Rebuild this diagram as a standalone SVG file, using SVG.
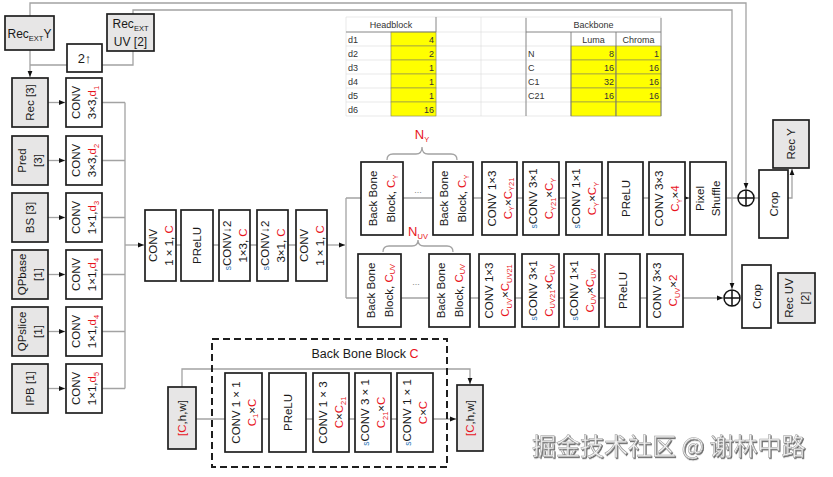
<svg xmlns="http://www.w3.org/2000/svg" width="833" height="477" viewBox="0 0 833 477">
<style>
.b{fill:#fff;stroke:#1f1f1f;stroke-width:1.7}
.g{fill:#e7e6e6;stroke:#1f1f1f;stroke-width:1.7}
.c{fill:none;stroke:#a3a3a3;stroke-width:1.3}
.t{font-family:"Liberation Sans",Arial,sans-serif;font-size:11.5px;fill:#1a1a1a;text-anchor:middle}
.r{fill:#e8141c}
.sb{font-size:7.5px}
.bl{fill:#2e75b6;font-size:8.5px}
.tb{font-family:"Liberation Sans",Arial,sans-serif;font-size:9px;fill:#333}
.gr{stroke:#dadada;stroke-width:0.6;fill:none}
.dk{stroke:#7a7a7a;stroke-width:0.8;fill:none}
.y{fill:#ffff00;stroke:#8a8a55;stroke-width:0.6}
.ox{fill:#fff;stroke:#111;stroke-width:1.5}
</style>
<defs>
<marker id="a" viewBox="0 0 10 10" refX="10" refY="5" markerWidth="6" markerHeight="6" markerUnits="userSpaceOnUse" orient="auto"><path d="M0,1 L10,5 L0,9z" fill="#111"/></marker>
<filter id="sh" x="-5%" y="-20%" width="110%" height="140%"><feDropShadow dx="1" dy="1.2" stdDeviation="0.7" flood-color="#444" flood-opacity="0.8"/></filter>
</defs>
<rect width="833" height="477" fill="#fff"/>

<g id="tables">
<g class="gr">
<path d="M346,17H661M346,32H661M346,46H661M346,60H661M346,74H661M346,88H661M346,102H661M346,116H661"/>
<path d="M346,17V116M391,32V116M436,17V116M481,17V116M526,17V116M571,32V116M616,32V116M661,17V116"/>
</g>
<rect class="y" x="391" y="32" width="45" height="14"/>
<rect class="y" x="391" y="46" width="45" height="14"/>
<rect class="y" x="391" y="60" width="45" height="14"/>
<rect class="y" x="391" y="74" width="45" height="14"/>
<rect class="y" x="391" y="88" width="45" height="14"/>
<rect class="y" x="391" y="102" width="45" height="14"/>
<path class="dk" d="M346,32H436M436,17V32"/>
<text class="tb" x="391" y="28" text-anchor="middle">Headblock</text>
<text class="tb" x="348" y="42.5">d1</text>
<text class="tb" x="348" y="56.5">d2</text>
<text class="tb" x="348" y="70.5">d3</text>
<text class="tb" x="348" y="84.5">d4</text>
<text class="tb" x="348" y="98.5">d5</text>
<text class="tb" x="348" y="112.5">d6</text>
<g text-anchor="end">
<text class="tb" x="434" y="42.5">4</text>
<text class="tb" x="434" y="56.5">2</text>
<text class="tb" x="434" y="70.5">1</text>
<text class="tb" x="434" y="84.5">1</text>
<text class="tb" x="434" y="98.5">1</text>
<text class="tb" x="434" y="112.5">16</text>
</g>
<rect class="y" x="571" y="46" width="45" height="14"/><rect class="y" x="616" y="46" width="45" height="14"/>
<rect class="y" x="571" y="60" width="45" height="14"/><rect class="y" x="616" y="60" width="45" height="14"/>
<rect class="y" x="571" y="74" width="45" height="14"/><rect class="y" x="616" y="74" width="45" height="14"/>
<rect class="y" x="571" y="88" width="45" height="14"/><rect class="y" x="616" y="88" width="45" height="14"/>
<rect class="y" x="571" y="102" width="45" height="14"/><rect class="y" x="616" y="102" width="45" height="14"/>
<path class="dk" d="M526,18V116M661,18V116M526,32H661M571,32V116M616,32V116"/>
<text class="tb" x="593.5" y="28" text-anchor="middle">Backbone</text>
<text class="tb" x="593.5" y="42.5" text-anchor="middle">Luma</text>
<text class="tb" x="638.5" y="42.5" text-anchor="middle">Chroma</text>
<text class="tb" x="528" y="56.5">N</text>
<text class="tb" x="528" y="70.5">C</text>
<text class="tb" x="528" y="84.5">C1</text>
<text class="tb" x="528" y="98.5">C21</text>
<g text-anchor="end">
<text class="tb" x="614" y="56.5">8</text><text class="tb" x="659" y="56.5">1</text>
<text class="tb" x="614" y="70.5">16</text><text class="tb" x="659" y="70.5">16</text>
<text class="tb" x="614" y="84.5">32</text><text class="tb" x="659" y="84.5">16</text>
<text class="tb" x="614" y="98.5">16</text><text class="tb" x="659" y="98.5">16</text>
</g>
</g>

<g id="connectors">
<path class="c" d="M30,16V3H746V189" marker-end="url(#a)"/>
<path class="c" d="M133,14V10H732V289" marker-end="url(#a)"/>
<path class="c" d="M30,50V77" marker-end="url(#a)"/>
<path class="c" d="M30,65H67M102,65H133V51"/>
<path class="c" d="M48,102.5H65" marker-end="url(#a)"/>
<path class="c" d="M48,160.5H65" marker-end="url(#a)"/>
<path class="c" d="M48,217.5H65" marker-end="url(#a)"/>
<path class="c" d="M48,274.5H65" marker-end="url(#a)"/>
<path class="c" d="M48,331.5H65" marker-end="url(#a)"/>
<path class="c" d="M48,388.5H65" marker-end="url(#a)"/>
<path class="c" d="M102,102.5H125M102,160.5H125M102,217.5H125M102,274.5H125M102,331.5H125M102,388.5H125M125,102.5V388.5"/>
<path class="c" d="M125,245H144" marker-end="url(#a)"/>
<path class="c" d="M176,245H296"/>
<path class="c" d="M327,245H345" marker-end="url(#a)"/>
<path class="c" d="M346,198V298"/>
<path class="c" d="M346,198H738"/>
<path class="c" d="M682,198H689" marker-end="url(#a)"/>
<path class="c" d="M346,298H723" marker-end="url(#a)"/>
<path class="c" d="M754,198H792V169" marker-end="url(#a)"/>
<path class="c" d="M387,160Q387,154 393,154H416Q422,154 422,147Q422,154 428,154H451Q457,154 457,160"/>
<path class="c" d="M383,252Q383,246 389,246H412Q418,246 418,240Q418,246 424,246H447Q453,246 453,252"/>
<path class="c" d="M196,419H456" marker-end="url(#a)"/>
<path class="c" d="M182,387V369H470V384" marker-end="url(#a)"/>
</g>

<g id="recext-y"><rect class="g" x="5" y="16" width="49" height="34"/><text class="t" x="29.5" y="38" style="font-size:12px">Rec<tspan class="sb" dy="2.5">EXT</tspan><tspan dy="-2.5">Y</tspan></text></g>
<g id="recext-uv"><rect class="g" x="107" y="14" width="47" height="37"/><text class="t" style="font-size:12px"><tspan x="130.5" y="28">Rec<tspan class="sb" dy="2.5">EXT</tspan></tspan><tspan x="130.5" y="46">UV [2]</tspan></text></g>
<g id="up2"><rect class="b" x="67" y="44" width="35" height="28"/><text class="t" x="84.5" y="63" style="font-size:13px">2↑</text></g>

<g id="in-rec"><rect class="g" x="12" y="78" width="36" height="49"/><text class="t" transform="translate(30,102.5) rotate(-90)"><tspan x="0" y="4">Rec [3]</tspan></text></g>
<g id="conv-d1"><rect class="b" x="66" y="78" width="36" height="49"/><text class="t" transform="translate(84,102.5) rotate(-90)"><tspan x="0" y="-4">CONV</tspan><tspan x="0" y="12">3×3,<tspan class="r">d<tspan class="sb" dy="2.5">1</tspan></tspan></tspan></text></g>
<g id="in-pred"><rect class="g" x="12" y="136" width="36" height="49"/><text class="t" transform="translate(30,160.5) rotate(-90)"><tspan x="0" y="-4">Pred</tspan><tspan x="0" y="12">[3]</tspan></text></g>
<g id="conv-d2"><rect class="b" x="66" y="136" width="36" height="49"/><text class="t" transform="translate(84,160.5) rotate(-90)"><tspan x="0" y="-4">CONV</tspan><tspan x="0" y="12">3×3,<tspan class="r">d<tspan class="sb" dy="2.5">2</tspan></tspan></tspan></text></g>
<g id="in-bs"><rect class="g" x="12" y="193" width="36" height="49"/><text class="t" transform="translate(30,217.5) rotate(-90)"><tspan x="0" y="4">BS [3]</tspan></text></g>
<g id="conv-d3"><rect class="b" x="66" y="193" width="36" height="49"/><text class="t" transform="translate(84,217.5) rotate(-90)"><tspan x="0" y="-4">CONV</tspan><tspan x="0" y="12">1×1,<tspan class="r">d<tspan class="sb" dy="2.5">3</tspan></tspan></tspan></text></g>
<g id="in-qpbase"><rect class="g" x="12" y="250" width="36" height="49"/><text class="t" transform="translate(30,274.5) rotate(-90)"><tspan x="0" y="-4">QPbase</tspan><tspan x="0" y="12">[1]</tspan></text></g>
<g id="conv-d4a"><rect class="b" x="66" y="250" width="36" height="49"/><text class="t" transform="translate(84,274.5) rotate(-90)"><tspan x="0" y="-4">CONV</tspan><tspan x="0" y="12">1×1,<tspan class="r">d<tspan class="sb" dy="2.5">4</tspan></tspan></tspan></text></g>
<g id="in-qpslice"><rect class="g" x="12" y="307" width="36" height="49"/><text class="t" transform="translate(30,331.5) rotate(-90)"><tspan x="0" y="-4">QPslice</tspan><tspan x="0" y="12">[1]</tspan></text></g>
<g id="conv-d4b"><rect class="b" x="66" y="307" width="36" height="49"/><text class="t" transform="translate(84,331.5) rotate(-90)"><tspan x="0" y="-4">CONV</tspan><tspan x="0" y="12">1×1,<tspan class="r">d<tspan class="sb" dy="2.5">4</tspan></tspan></tspan></text></g>
<g id="in-ipb"><rect class="g" x="12" y="364" width="36" height="49"/><text class="t" transform="translate(30,388.5) rotate(-90)"><tspan x="0" y="4">IPB [1]</tspan></text></g>
<g id="conv-d5"><rect class="b" x="66" y="364" width="36" height="49"/><text class="t" transform="translate(84,388.5) rotate(-90)"><tspan x="0" y="-4">CONV</tspan><tspan x="0" y="12">1×1,<tspan class="r">d<tspan class="sb" dy="2.5">5</tspan></tspan></tspan></text></g>

<g id="m-conv1"><rect class="b" x="145" y="210" width="31" height="71"/><text class="t" transform="translate(160.5,245.5) rotate(-90)"><tspan x="0" y="-3.5">CONV</tspan><tspan x="0" y="12">1 × 1, <tspan class="r">C</tspan></tspan></text></g>
<g id="m-prelu"><rect class="b" x="181" y="210" width="32" height="71"/><text class="t" transform="translate(197,245.5) rotate(-90)"><tspan x="0" y="4">PReLU</tspan></text></g>
<g id="m-sconv13"><rect class="b" x="219" y="210" width="31" height="71"/><text class="t" transform="translate(234.5,245.5) rotate(-90)"><tspan x="0" y="-3.5"><tspan class="bl">s</tspan>CONV↓2</tspan><tspan x="0" y="12">1×3, <tspan class="r">C</tspan></tspan></text></g>
<g id="m-sconv31"><rect class="b" x="257" y="210" width="31" height="71"/><text class="t" transform="translate(272.5,245.5) rotate(-90)"><tspan x="0" y="-3.5"><tspan class="bl">s</tspan>CONV↓2</tspan><tspan x="0" y="12">3×1, <tspan class="r">C</tspan></tspan></text></g>
<g id="m-conv2"><rect class="b" x="296" y="210" width="31" height="71"/><text class="t" transform="translate(311.5,245.5) rotate(-90)"><tspan x="0" y="-3.5">CONV</tspan><tspan x="0" y="12">1 × 1, <tspan class="r">C</tspan></tspan></text></g>

<g id="ny-label"><text class="t r" x="422" y="139" style="font-size:13px">N<tspan class="sb" dy="2.5">Y</tspan></text></g>
<g id="y-bbb1"><rect class="b" x="361" y="162" width="42" height="73"/><text class="t" transform="translate(382,198.5) rotate(-90)"><tspan x="0" y="-5">Back Bone</tspan><tspan x="0" y="13">Block, <tspan class="r">C<tspan class="sb" dy="2.5">Y</tspan></tspan></tspan></text></g>
<text class="t" x="418" y="193" style="font-size:9px;fill:#888">...</text>
<g id="y-bbb2"><rect class="b" x="433" y="162" width="40" height="73"/><text class="t" transform="translate(453,198.5) rotate(-90)"><tspan x="0" y="-5">Back Bone</tspan><tspan x="0" y="13">Block, <tspan class="r">C<tspan class="sb" dy="2.5">Y</tspan></tspan></tspan></text></g>
<g id="y-conv13"><rect class="b" x="482" y="162" width="35" height="73"/><text class="t" transform="translate(499.5,198.5) rotate(-90)"><tspan x="0" y="-4">CONV 1×3</tspan><tspan x="0" y="12"><tspan class="r">C<tspan class="sb" dy="2.5">Y</tspan></tspan><tspan dy="-2.5">×</tspan><tspan class="r">C<tspan class="sb" dy="2.5">Y21</tspan></tspan></tspan></text></g>
<g id="y-sconv31"><rect class="b" x="523" y="162" width="36" height="73"/><text class="t" transform="translate(541,198.5) rotate(-90)"><tspan x="0" y="-4"><tspan class="bl">s</tspan>CONV 3×1</tspan><tspan x="0" y="12"><tspan class="r">C<tspan class="sb" dy="2.5">Y21</tspan></tspan><tspan dy="-2.5">×</tspan><tspan class="r">C<tspan class="sb" dy="2.5">Y</tspan></tspan></tspan></text></g>
<g id="y-sconv11"><rect class="b" x="566" y="162" width="36" height="73"/><text class="t" transform="translate(584,198.5) rotate(-90)"><tspan x="0" y="-4"><tspan class="bl">s</tspan>CONV 1×1</tspan><tspan x="0" y="12"><tspan class="r">C<tspan class="sb" dy="2.5">Y</tspan></tspan><tspan dy="-2.5">×</tspan><tspan class="r">C<tspan class="sb" dy="2.5">Y</tspan></tspan></tspan></text></g>
<g id="y-prelu"><rect class="b" x="608" y="162" width="35" height="73"/><text class="t" transform="translate(625.5,198.5) rotate(-90)"><tspan x="0" y="4">PReLU</tspan></text></g>
<g id="y-conv33"><rect class="b" x="649" y="162" width="36" height="73"/><text class="t" transform="translate(667,198.5) rotate(-90)"><tspan x="0" y="-4">CONV 3×3</tspan><tspan x="0" y="12"><tspan class="r">C<tspan class="sb" dy="2.5">Y</tspan></tspan><tspan dy="-2.5">×</tspan><tspan class="r">4</tspan></tspan></text></g>
<g id="y-shuffle"><rect class="b" x="690" y="162" width="36" height="73"/><text class="t" transform="translate(708,198.5) rotate(-90)"><tspan x="0" y="-4">Pixel</tspan><tspan x="0" y="12">Shuffle</tspan></text></g>

<g id="nuv-label"><text class="t r" x="418" y="236" style="font-size:13px">N<tspan class="sb" dy="2.5">UV</tspan></text></g>
<g id="uv-bbb1"><rect class="b" x="358" y="254" width="43" height="73"/><text class="t" transform="translate(379.5,290.5) rotate(-90)"><tspan x="0" y="-5">Back Bone</tspan><tspan x="0" y="13">Block, <tspan class="r">C<tspan class="sb" dy="2.5">UV</tspan></tspan></tspan></text></g>
<text class="t" x="416" y="285" style="font-size:9px;fill:#888">...</text>
<g id="uv-bbb2"><rect class="b" x="429" y="254" width="41" height="73"/><text class="t" transform="translate(449.5,290.5) rotate(-90)"><tspan x="0" y="-5">Back Bone</tspan><tspan x="0" y="13">Block, <tspan class="r">C<tspan class="sb" dy="2.5">UV</tspan></tspan></tspan></text></g>
<g id="uv-conv13"><rect class="b" x="479" y="254" width="36" height="73"/><text class="t" transform="translate(497,290.5) rotate(-90)"><tspan x="0" y="-4">CONV 1×3</tspan><tspan x="0" y="12"><tspan class="r">C<tspan class="sb" dy="2.5">UV</tspan></tspan><tspan dy="-2.5">×</tspan><tspan class="r">C<tspan class="sb" dy="2.5">UV21</tspan></tspan></tspan></text></g>
<g id="uv-sconv31"><rect class="b" x="522" y="254" width="37" height="73"/><text class="t" transform="translate(540.5,290.5) rotate(-90)"><tspan x="0" y="-4"><tspan class="bl">s</tspan>CONV 3×1</tspan><tspan x="0" y="12"><tspan class="r">C<tspan class="sb" dy="2.5">UV21</tspan></tspan><tspan dy="-2.5">×</tspan><tspan class="r">C<tspan class="sb" dy="2.5">UV</tspan></tspan></tspan></text></g>
<g id="uv-sconv11"><rect class="b" x="564" y="254" width="35" height="73"/><text class="t" transform="translate(581.5,290.5) rotate(-90)"><tspan x="0" y="-4"><tspan class="bl">s</tspan>CONV 1×1</tspan><tspan x="0" y="12"><tspan class="r">C<tspan class="sb" dy="2.5">UV</tspan></tspan><tspan dy="-2.5">×</tspan><tspan class="r">C<tspan class="sb" dy="2.5">UV</tspan></tspan></tspan></text></g>
<g id="uv-prelu"><rect class="b" x="605" y="254" width="35" height="73"/><text class="t" transform="translate(622.5,290.5) rotate(-90)"><tspan x="0" y="4">PReLU</tspan></text></g>
<g id="uv-conv33"><rect class="b" x="647" y="254" width="36" height="73"/><text class="t" transform="translate(665,290.5) rotate(-90)"><tspan x="0" y="-4">CONV 3×3</tspan><tspan x="0" y="12"><tspan class="r">C<tspan class="sb" dy="2.5">UV</tspan></tspan><tspan dy="-2.5">×</tspan><tspan class="r">2</tspan></tspan></text></g>

<g id="add-y"><circle class="ox" cx="746" cy="198" r="8"/><path d="M738,198H754M746,190V206" stroke="#111" stroke-width="1.5"/></g>
<g id="add-uv"><circle class="ox" cx="732" cy="298" r="8"/><path d="M724,298H740M732,290V306" stroke="#111" stroke-width="1.5"/></g>
<g id="crop-y"><rect class="b" x="759" y="170" width="29" height="68"/><text class="t" transform="translate(773.5,204) rotate(-90)"><tspan x="0" y="4">Crop</tspan></text></g>
<g id="rec-y"><rect class="g" x="773" y="120" width="36" height="48"/><text class="t" transform="translate(791,144) rotate(-90)"><tspan x="0" y="4">Rec Y</tspan></text></g>
<g id="crop-uv"><rect class="b" x="742" y="265" width="29" height="63"/><text class="t" transform="translate(756.5,296.5) rotate(-90)"><tspan x="0" y="4">Crop</tspan></text></g>
<g id="rec-uv"><rect class="g" x="778" y="273" width="37" height="50"/><text class="t" transform="translate(796.5,298) rotate(-90)"><tspan x="0" y="-4">Rec UV</tspan><tspan x="0" y="12">[2]</tspan></text></g>

<g id="bbb-detail">
<rect x="212" y="339" width="235" height="128" fill="none" stroke="#1f1f1f" stroke-width="2" stroke-dasharray="7 4"/>
<text class="t" x="365" y="358" style="font-size:12.5px">Back Bone Block <tspan class="r">C</tspan></text>
</g>
<g id="b-in"><rect class="g" x="168" y="387" width="28" height="62"/><text class="t" transform="translate(182,418) rotate(-90)"><tspan x="0" y="4"><tspan class="r">[C</tspan>,h,w]</tspan></text></g>
<g id="b-conv11a"><rect class="b" x="225" y="373" width="37" height="79"/><text class="t" transform="translate(243.5,412.5) rotate(-90)"><tspan x="0" y="-4">CONV 1 × 1</tspan><tspan x="0" y="12"><tspan class="r">C<tspan class="sb" dy="2.5">1</tspan></tspan><tspan dy="-2.5">×</tspan><tspan class="r">C</tspan></tspan></text></g>
<g id="b-prelu"><rect class="b" x="269" y="373" width="37" height="79"/><text class="t" transform="translate(287.5,412.5) rotate(-90)"><tspan x="0" y="4">PReLU</tspan></text></g>
<g id="b-conv13"><rect class="b" x="313" y="373" width="36" height="79"/><text class="t" transform="translate(331,412.5) rotate(-90)"><tspan x="0" y="-4">CONV 1 × 3</tspan><tspan x="0" y="12"><tspan class="r">C</tspan>×<tspan class="r">C<tspan class="sb" dy="2.5">21</tspan></tspan></tspan></text></g>
<g id="b-sconv31"><rect class="b" x="355" y="373" width="36" height="79"/><text class="t" transform="translate(373,412.5) rotate(-90)"><tspan x="0" y="-4"><tspan class="bl">s</tspan>CONV 3 × 1</tspan><tspan x="0" y="12"><tspan class="r">C<tspan class="sb" dy="2.5">21</tspan></tspan><tspan dy="-2.5">×</tspan><tspan class="r">C</tspan></tspan></text></g>
<g id="b-sconv11"><rect class="b" x="397" y="373" width="36" height="79"/><text class="t" transform="translate(415,412.5) rotate(-90)"><tspan x="0" y="-4"><tspan class="bl">s</tspan>CONV 1 × 1</tspan><tspan x="0" y="12"><tspan class="r">C</tspan>×<tspan class="r">C</tspan></tspan></text></g>
<g id="b-out"><rect class="g" x="457" y="385" width="26" height="66"/><text class="t" transform="translate(470,418) rotate(-90)"><tspan x="0" y="4"><tspan class="r">[C</tspan>,h,w]</tspan></text></g>

<text x="532" y="455" filter="url(#sh)" style="font-family:'Noto Sans CJK SC',sans-serif;font-size:24px;fill:#f2f2f2;stroke:#9a9a9a;stroke-width:0.5">掘金技术社区 @ 谢林中路</text>
</svg>
